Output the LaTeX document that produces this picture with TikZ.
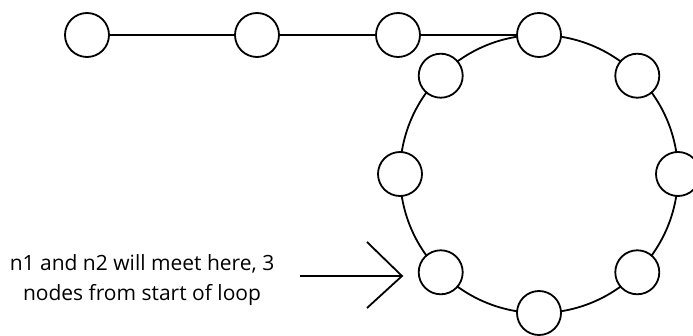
\documentclass[tikz,border=0pt]{standalone}
\usepackage{fontspec}
\setmainfont{Open Sans}
\usetikzlibrary{calc}
\begin{document}
\begin{tikzpicture}[x=1pt,y=1pt,
  nd/.style={circle,draw,line width=1.8pt,fill=white,minimum size=44pt,inner sep=0pt},
  edge/.style={line width=1.8pt},
  lbl/.style={align=center,font=\fontsize{21}{30}\selectfont,inner sep=0pt}]
\useasboundingbox (0,0) rectangle (693,335);
\coordinate (cen) at (539,161);
% the loop, drawn behind its nodes
\draw[edge] (cen) circle (139);
\node[nd] (d) at ($(cen)+(90:139)$) {};
\node[nd] (ul) at ($(cen)+(135:139)$) {};
\node[nd] (l) at ($(cen)+(180:139)$) {};
\node[nd] (ll) at ($(cen)+(225:139)$) {};
\node[nd] (b) at ($(cen)+(270:139)$) {};
\node[nd] (lr) at ($(cen)+(315:139)$) {};
\node[nd] (r) at ($(cen)+(0:139)$) {};
\node[nd] (ur) at ($(cen)+(45:139)$) {};
\node[nd] (n1) at (87,300) {};
\node[nd] (n2) at (257,300) {};
\node[nd] (n3) at (398,300) {};
\draw[edge] (n1) -- (n2);
\draw[edge] (n2) -- (n3);
\draw[edge] (n3) -- (d);
% annotation
\node[lbl,anchor=base] (txt) at (142,35) {n1 and n2 will meet here, 3\\nodes from start of loop};
\coordinate (tail) at (300,59);
\coordinate (tip) at (402,59);
\coordinate (armu) at (367,93);
\coordinate (armd) at (367,27);
\draw[edge] (tail) -- (tip);
\draw[edge] (armu) -- (tip) -- (armd);
\end{tikzpicture}
\end{document}
